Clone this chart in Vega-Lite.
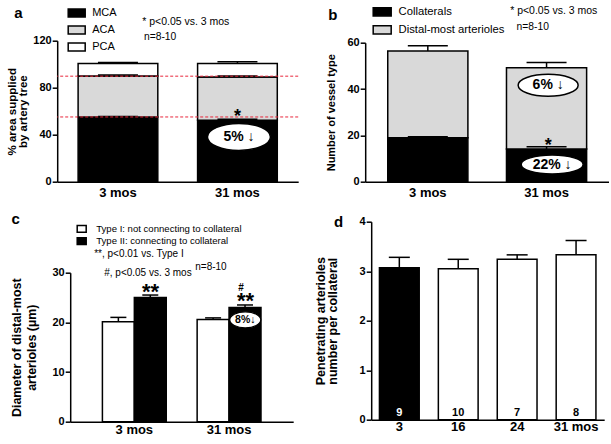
{
  "$schema": "https://vega.github.io/schema/vega-lite/v6.json",
  "background": "white",
  "padding": {"left": 6.2, "top": 1.7, "right": 0, "bottom": 0},
  "config": {
    "font": "Liberation Sans",
    "view": {"stroke": null},
    "axis": {"domainColor": "black", "domainWidth": 1.5, "tickColor": "black", "tickWidth": 1.5, "labelColor": "black", "labelFont": "Liberation Sans", "labelFontWeight": "bold", "titleFont": "Liberation Sans", "titleFontWeight": "bold", "titleColor": "black", "grid": false},
    "axisX": {"ticks": false, "labelAngle": 0, "labelFontSize": 13, "labelPadding": 5},
    "axisY": {"tickSize": 5, "labelFontSize": 11, "labelPadding": 1},
    "legend": {"padding": 0, "labelColor": "black", "labelFont": "Liberation Sans", "symbolStrokeColor": "black", "symbolStrokeWidth": 1.5}
  },
  "resolve": {"scale": {"fill": "independent"}, "legend": {"fill": "independent"}},
  "columns": 2,
  "bounds": "flush",
  "align": "each",
  "spacing": {"row": 40, "column": 61},
  "concat": [
    {
      "width": 241,
      "height": 141,
      "data": {"values": [
        {"age": "3 mos", "artery": "MCA", "lo": 0, "hi": 55.1, "err": 55.5},
        {"age": "3 mos", "artery": "ACA", "lo": 55.1, "hi": 90.0, "err": 90.9},
        {"age": "3 mos", "artery": "PCA", "lo": 90.0, "hi": 100.6, "err": 101.4},
        {"age": "31 mos", "artery": "MCA", "lo": 0, "hi": 52.3, "err": 53.2},
        {"age": "31 mos", "artery": "ACA", "lo": 52.3, "hi": 89.2, "err": 90.0},
        {"age": "31 mos", "artery": "PCA", "lo": 89.2, "hi": 100.6, "err": 102.0}
      ]},
      "layer": [
        {
          "mark": {"type": "bar", "stroke": "black", "strokeWidth": 1.5},
          "encoding": {
            "x": {"field": "age", "type": "nominal", "sort": ["3 mos", "31 mos"], "scale": {"paddingInner": 0.333, "paddingOuter": 0.175}, "axis": {"title": null}},
            "y": {"field": "hi", "type": "quantitative", "scale": {"domain": [0, 120], "nice": false}, "axis": {"values": [0, 20, 40, 60, 80, 100, 120], "title": ["% area supplied", "by artery tree"], "titleFontSize": 11.5, "titleLineHeight": 11.5, "titlePadding": 4}},
            "y2": {"field": "lo"},
            "fill": {"field": "artery", "type": "nominal", "scale": {"domain": ["MCA", "ACA", "PCA"], "range": ["black", "#d9d9d9", "white"]},
              "legend": {"orient": "none", "legendX": 10, "legendY": -37.2, "title": null, "symbolType": "M-1,-0.47H1V0.47H-1Z", "symbolSize": 289, "labelFontSize": 11, "labelOffset": 6, "rowPadding": -1.2}}
          }
        },
        {"mark": {"type": "rule", "color": "black", "strokeWidth": 1.5}, "encoding": {"x": {"field": "age", "type": "nominal"}, "y": {"field": "hi", "type": "quantitative"}, "y2": {"field": "err"}}},
        {"mark": {"type": "tick", "color": "black", "thickness": 1.5, "size": 40, "opacity": 1}, "encoding": {"x": {"field": "age", "type": "nominal"}, "y": {"field": "err", "type": "quantitative"}}},
        {"data": {"values": [{}]}, "mark": {"type": "rule", "color": "#e8253a", "strokeWidth": 1, "strokeDash": [3, 2]}, "encoding": {"y": {"datum": 89.8, "type": "quantitative"}}},
        {"data": {"values": [{}]}, "mark": {"type": "rule", "color": "#e8253a", "strokeWidth": 1, "strokeDash": [3, 2]}, "encoding": {"y": {"datum": 55.1, "type": "quantitative"}}},
        {"data": {"values": [{}]}, "mark": {"type": "text", "text": "*", "fontSize": 18, "fontWeight": "bold", "color": "black", "baseline": "alphabetic"}, "encoding": {"x": {"datum": "31 mos", "type": "nominal"}, "y": {"datum": 50.6, "type": "quantitative"}}},
        {"data": {"values": [{}]}, "mark": {"type": "point", "shape": "M-1,0C-1,-0.2375,-0.5523,-0.43,0,-0.43C0.5523,-0.43,1,-0.2375,1,0C1,0.2375,0.5523,0.43,0,0.43C-0.5523,0.43,-1,0.2375,-1,0Z", "size": 3969, "filled": true, "fill": "white", "stroke": "black", "strokeWidth": 1.5, "opacity": 1, "xOffset": 1.5}, "encoding": {"x": {"datum": "31 mos", "type": "nominal"}, "y": {"datum": 38.1, "type": "quantitative"}}},
        {"data": {"values": [{}]}, "mark": {"type": "text", "text": "5% ↓", "fontSize": 14, "fontWeight": "bold", "color": "black", "baseline": "middle", "dx": 1.5}, "encoding": {"x": {"datum": "31 mos", "type": "nominal"}, "y": {"datum": 38.1, "type": "quantitative"}}},
        {"data": {"values": [{}]}, "mark": {"type": "text", "text": "* p<0.05 vs. 3 mos", "fontSize": 10.5, "color": "black", "align": "left", "baseline": "middle", "dx": 24.25}, "encoding": {"x": {"datum": "3 mos", "type": "nominal"}, "y": {"datum": 136, "type": "quantitative"}}},
        {"data": {"values": [{}]}, "mark": {"type": "text", "text": "n=8-10", "fontSize": 10.3, "color": "black", "align": "left", "baseline": "middle", "dx": 26}, "encoding": {"x": {"datum": "3 mos", "type": "nominal"}, "y": {"datum": 123.2, "type": "quantitative"}}},
        {"data": {"values": [{}]}, "mark": {"type": "text", "text": "a", "fontSize": 15, "fontWeight": "bold", "color": "black", "align": "left", "baseline": "alphabetic", "dx": -103.75}, "encoding": {"x": {"datum": "3 mos", "type": "nominal"}, "y": {"datum": 139.1, "type": "quantitative"}}}
      ]
    },
    {
      "width": 244,
      "height": 141,
      "data": {"values": [
        {"age": "3 mos", "vessel": "Collaterals", "lo": 0, "hi": 19.0, "err": 19.4},
        {"age": "3 mos", "vessel": "Distal-most arterioles", "lo": 19.0, "hi": 56.4, "err": 58.7},
        {"age": "31 mos", "vessel": "Collaterals", "lo": 0, "hi": 14.1, "err": 15.1},
        {"age": "31 mos", "vessel": "Distal-most arterioles", "lo": 14.1, "hi": 49.2, "err": 51.5}
      ]},
      "layer": [
        {
          "mark": {"type": "bar", "stroke": "black", "strokeWidth": 1.5},
          "encoding": {
            "x": {"field": "age", "type": "nominal", "sort": ["3 mos", "31 mos"], "scale": {"paddingInner": 0.325, "paddingOuter": 0.19}, "axis": {"title": null}},
            "y": {"field": "hi", "type": "quantitative", "scale": {"domain": [0, 60], "nice": false, "range": [141, 2]}, "axis": {"values": [0, 10, 20, 30, 40, 50, 60], "title": "Number of vessel type", "titleFontSize": 11, "titlePadding": 10}},
            "y2": {"field": "lo"},
            "fill": {"field": "vessel", "type": "nominal", "scale": {"domain": ["Collaterals", "Distal-most arterioles"], "range": ["black", "#d9d9d9"]},
              "legend": {"orient": "none", "legendX": 7, "legendY": -38.8, "title": null, "symbolType": "M-1,-0.45H1V0.45H-1Z", "symbolSize": 324, "labelFontSize": 11.3, "labelOffset": 6.3, "rowPadding": -3}}
          }
        },
        {"mark": {"type": "rule", "color": "black", "strokeWidth": 1.5}, "encoding": {"x": {"field": "age", "type": "nominal"}, "y": {"field": "hi", "type": "quantitative"}, "y2": {"field": "err"}}},
        {"mark": {"type": "tick", "color": "black", "thickness": 1.5, "size": 40, "opacity": 1}, "encoding": {"x": {"field": "age", "type": "nominal"}, "y": {"field": "err", "type": "quantitative"}}},
        {"data": {"values": [{}]}, "mark": {"type": "text", "text": "*", "fontSize": 18, "fontWeight": "bold", "color": "black", "baseline": "alphabetic", "dx": 1.6}, "encoding": {"x": {"datum": "31 mos", "type": "nominal"}, "y": {"datum": 13.2, "type": "quantitative"}}},
        {"data": {"values": [{}]}, "mark": {"type": "point", "shape": "M-1,0C-1,-0.2027,-0.5523,-0.367,0,-0.367C0.5523,-0.367,1,-0.2027,1,0C1,0.2027,0.5523,0.367,0,0.367C-0.5523,0.367,-1,0.2027,-1,0Z", "size": 3600, "filled": true, "fill": "white", "stroke": "black", "strokeWidth": 1.5, "opacity": 1, "xOffset": 1.6}, "encoding": {"x": {"datum": "31 mos", "type": "nominal"}, "y": {"datum": 41.65, "type": "quantitative"}}},
        {"data": {"values": [{}]}, "mark": {"type": "text", "text": "6% ↓", "fontSize": 14, "fontWeight": "bold", "color": "black", "baseline": "middle", "dx": 1.6}, "encoding": {"x": {"datum": "31 mos", "type": "nominal"}, "y": {"datum": 41.65, "type": "quantitative"}}},
        {"data": {"values": [{}]}, "mark": {"type": "point", "shape": "M-1,0C-1,-0.169,-0.5523,-0.306,0,-0.306C0.5523,-0.306,1,-0.169,1,0C1,0.169,0.5523,0.306,0,0.306C-0.5523,0.306,-1,0.169,-1,0Z", "size": 3844, "filled": true, "fill": "white", "stroke": "black", "strokeWidth": 1.5, "opacity": 1, "xOffset": 5.6}, "encoding": {"x": {"datum": "31 mos", "type": "nominal"}, "y": {"datum": 7.4, "type": "quantitative"}}},
        {"data": {"values": [{}]}, "mark": {"type": "text", "text": "22% ↓", "fontSize": 14, "fontWeight": "bold", "color": "black", "baseline": "middle", "dx": 5.6}, "encoding": {"x": {"datum": "31 mos", "type": "nominal"}, "y": {"datum": 7.4, "type": "quantitative"}}},
        {"data": {"values": [{}]}, "mark": {"type": "text", "text": "* p<0.05 vs. 3 mos", "fontSize": 10.5, "color": "black", "align": "left", "baseline": "middle", "dx": -36.4}, "encoding": {"x": {"datum": "31 mos", "type": "nominal"}, "y": {"datum": 73.7, "type": "quantitative"}}},
        {"data": {"values": [{}]}, "mark": {"type": "text", "text": "n=8-10", "fontSize": 10.3, "color": "black", "align": "left", "baseline": "middle", "dx": -30}, "encoding": {"x": {"datum": "31 mos", "type": "nominal"}, "y": {"datum": 66.8, "type": "quantitative"}}},
        {"data": {"values": [{}]}, "mark": {"type": "text", "text": "b", "fontSize": 15, "fontWeight": "bold", "color": "black", "align": "left", "baseline": "alphabetic", "dx": -99.65}, "encoding": {"x": {"datum": "3 mos", "type": "nominal"}, "y": {"datum": 70.0, "type": "quantitative"}}}
      ]
    },
    {
      "width": 247,
      "height": 200,
      "data": {"values": [
        {"age": "3 mos", "type": "Type I:  not connecting to collateral", "mean": 20.1, "err": 21.0},
        {"age": "3 mos", "type": "Type II: connecting to collateral", "mean": 25.0, "err": 25.5},
        {"age": "31 mos", "type": "Type I:  not connecting to collateral", "mean": 20.6, "err": 20.9},
        {"age": "31 mos", "type": "Type II: connecting to collateral", "mean": 23.0, "err": 23.5}
      ]},
      "layer": [
        {
          "mark": {"type": "bar", "stroke": "black", "strokeWidth": 1.5},
          "encoding": {
            "x": {"field": "age", "type": "nominal", "sort": ["3 mos", "31 mos"], "scale": {"range": [13, 236], "paddingInner": 0.326, "paddingOuter": 0.34}, "axis": {"title": null, "labelPadding": 2}},
            "xOffset": {"field": "type", "type": "nominal", "scale": {"paddingInner": 0, "paddingOuter": 0}},
            "y": {"field": "mean", "type": "quantitative", "scale": {"domain": [0, 30], "nice": false, "range": [200, 51]}, "axis": {"values": [0, 10, 20, 30], "offset": -13, "title": ["Diameter of distal-most", "arterioles (µm)"], "titleFontSize": 12.5, "titleLineHeight": 15, "titlePadding": 13}},
            "fill": {"field": "type", "type": "nominal", "scale": {"domain": ["Type I:  not connecting to collateral", "Type II: connecting to collateral"], "range": ["white", "black"]},
              "legend": {"orient": "none", "legendX": 19, "legendY": 1.6, "title": null, "symbolType": "M-1,-0.75H1V0.75H-1Z", "symbolSize": 81, "labelFontSize": 9.6, "labelOffset": 9, "rowPadding": -0.6}}
          }
        },
        {"mark": {"type": "rule", "color": "black", "strokeWidth": 1.5}, "encoding": {"x": {"field": "age", "type": "nominal"}, "xOffset": {"field": "type", "type": "nominal"}, "y": {"field": "mean", "type": "quantitative"}, "y2": {"field": "err"}}},
        {"mark": {"type": "tick", "color": "black", "thickness": 1.5, "size": 16, "opacity": 1}, "encoding": {"x": {"field": "age", "type": "nominal"}, "xOffset": {"field": "type", "type": "nominal"}, "y": {"field": "err", "type": "quantitative"}}},
        {"data": {"values": [{}]}, "mark": {"type": "text", "text": "**", "fontSize": 22, "fontWeight": "bold", "color": "black", "baseline": "alphabetic", "dx": 16.2}, "encoding": {"x": {"datum": "3 mos", "type": "nominal"}, "y": {"datum": 24.8, "type": "quantitative"}}},
        {"data": {"values": [{}]}, "mark": {"type": "text", "text": "**", "fontSize": 22, "fontWeight": "bold", "color": "black", "baseline": "alphabetic", "dx": 16.5}, "encoding": {"x": {"datum": "31 mos", "type": "nominal"}, "y": {"datum": 22.9, "type": "quantitative"}}},
        {"data": {"values": [{}]}, "mark": {"type": "text", "text": "#", "fontSize": 10, "fontWeight": "bold", "color": "black", "baseline": "alphabetic", "dx": 12}, "encoding": {"x": {"datum": "31 mos", "type": "nominal"}, "y": {"datum": 26.4, "type": "quantitative"}}},
        {"data": {"values": [{}]}, "mark": {"type": "point", "shape": "M-1,0C-1,-0.2872,-0.5523,-0.52,0,-0.52C0.5523,-0.52,1,-0.2872,1,0C1,0.2872,0.5523,0.52,0,0.52C-0.5523,0.52,-1,0.2872,-1,0Z", "size": 961, "filled": true, "fill": "white", "stroke": "black", "strokeWidth": 1.2, "opacity": 1, "xOffset": 16.2}, "encoding": {"x": {"datum": "31 mos", "type": "nominal"}, "y": {"datum": 20.5, "type": "quantitative"}}},
        {"data": {"values": [{}]}, "mark": {"type": "text", "text": "8%↓", "fontSize": 10.5, "fontWeight": "bold", "color": "black", "baseline": "middle", "dx": 16.2}, "encoding": {"x": {"datum": "31 mos", "type": "nominal"}, "y": {"datum": 20.5, "type": "quantitative"}}},
        {"data": {"values": [{}]}, "mark": {"type": "text", "text": "**,  p<0.01 vs. Type I", "fontSize": 10, "color": "black", "align": "left", "baseline": "middle", "dx": -40.1}, "encoding": {"x": {"datum": "3 mos", "type": "nominal"}, "y": {"datum": 33.7, "type": "quantitative"}}},
        {"data": {"values": [{}]}, "mark": {"type": "text", "text": "#, p<0.05 vs. 3 mos", "fontSize": 10, "color": "black", "align": "left", "baseline": "middle", "dx": -30.1}, "encoding": {"x": {"datum": "3 mos", "type": "nominal"}, "y": {"datum": 29.9, "type": "quantitative"}}},
        {"data": {"values": [{}]}, "mark": {"type": "text", "text": "n=8-10", "fontSize": 10, "color": "black", "align": "left", "baseline": "middle", "dx": -33.8}, "encoding": {"x": {"datum": "31 mos", "type": "nominal"}, "y": {"datum": 31.2, "type": "quantitative"}}},
        {"data": {"values": [{}]}, "mark": {"type": "text", "text": "c", "fontSize": 15, "fontWeight": "bold", "color": "black", "align": "left", "baseline": "alphabetic", "dx": -122.8}, "encoding": {"x": {"datum": "3 mos", "type": "nominal"}, "y": {"datum": 39.9, "type": "quantitative"}}}
      ]
    },
    {
      "width": 239,
      "height": 198,
      "data": {"values": [
        {"age": "3", "mean": 3.07, "err": 3.28, "n": "9"},
        {"age": "16", "mean": 3.05, "err": 3.24, "n": "10"},
        {"age": "24", "mean": 3.24, "err": 3.33, "n": "7"},
        {"age": "31  mos", "mean": 3.33, "err": 3.62, "n": "8"}
      ]},
      "layer": [
        {
          "mark": {"type": "bar", "stroke": "black", "strokeWidth": 1.5},
          "encoding": {
            "x": {"field": "age", "type": "nominal", "sort": ["3", "16", "24", "31  mos"], "scale": {"range": [6, 239], "paddingInner": 0.325, "paddingOuter": 0.14}, "axis": {"title": null, "labelPadding": 1}},
            "y": {"field": "mean", "type": "quantitative", "scale": {"domain": [0, 4], "nice": false}, "axis": {"values": [0, 1, 2, 3, 4], "offset": -6, "title": ["Penetrating arterioles", "number per collateral"], "titleFontSize": 12.5, "titleLineHeight": 12, "titlePadding": 20}},
            "fill": {"condition": {"test": "datum.age === '3'", "value": "black"}, "value": "white"}
          }
        },
        {"mark": {"type": "rule", "color": "black", "strokeWidth": 1.5}, "encoding": {"x": {"field": "age", "type": "nominal", "sort": ["3", "16", "24", "31  mos"]}, "y": {"field": "mean", "type": "quantitative"}, "y2": {"field": "err"}}},
        {"mark": {"type": "tick", "color": "black", "thickness": 1.5, "size": 21, "opacity": 1}, "encoding": {"x": {"field": "age", "type": "nominal", "sort": ["3", "16", "24", "31  mos"]}, "y": {"field": "err", "type": "quantitative"}}},
        {"mark": {"type": "text", "fontSize": 11, "fontWeight": "bold", "baseline": "middle"}, "encoding": {"x": {"field": "age", "type": "nominal", "sort": ["3", "16", "24", "31  mos"]}, "y": {"datum": 0.13, "type": "quantitative"}, "text": {"field": "n"}, "color": {"condition": {"test": "datum.age === '3'", "value": "white"}, "value": "black"}}},
        {"data": {"values": [{}]}, "mark": {"type": "text", "text": "d", "fontSize": 15, "fontWeight": "bold", "color": "black", "align": "left", "baseline": "alphabetic", "dx": -65.4}, "encoding": {"x": {"datum": "3", "type": "nominal"}, "y": {"datum": 3.895, "type": "quantitative"}}}
      ]
    }
  ]
}
